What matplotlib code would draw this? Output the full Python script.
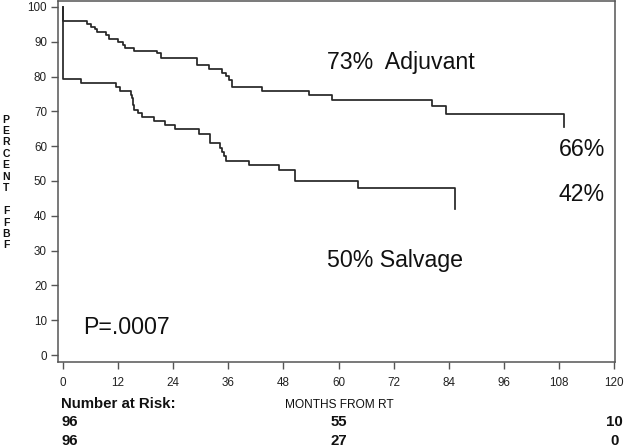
import matplotlib
matplotlib.use("Agg")
import matplotlib.pyplot as plt
import matplotlib.transforms as mtransforms

# ---------------- data ----------------
adj_months = [0, 0, 5.2, 6.1, 7.0, 7.3, 9.3, 9.9, 12.0, 13.1, 13.5, 15.5, 20.4, 21.3,
              29.1, 31.7, 34.6, 35.5, 36.2, 36.7, 36.9, 43.3, 53.5, 58.5, 80.4, 83.3, 109.0]
adj_pct = [100, 96.0, 95.0, 94.3, 93.6, 92.7, 91.8, 90.7, 89.8, 89.1, 88.3, 87.4, 86.7, 85.4,
           83.3, 82.1, 81.1, 80.2, 79.0, 78.1, 77.1, 75.9, 74.8, 73.3, 71.6, 69.3, 65.5]

sal_months = [0, 0, 4.0, 11.5, 12.4, 14.7, 15.1, 15.3, 15.5, 16.3, 17.3, 19.7, 22.2, 24.4,
              29.5, 31.9, 34.2, 34.6, 35.1, 35.4, 40.6, 47.1, 50.5, 64.2, 85.4]
sal_pct = [100, 79.2, 78.1, 76.9, 75.9, 74.7, 73.7, 71.9, 70.4, 69.4, 68.3, 67.2, 66.1, 64.9,
           63.5, 60.8, 59.6, 58.2, 57.2, 55.8, 54.6, 53.2, 50.1, 48.1, 41.9]

x_ticks = [0, 12, 24, 36, 48, 60, 72, 84, 96, 108, 120]
y_ticks = [0, 10, 20, 30, 40, 50, 60, 70, 80, 90, 100]

risk_months = [0, 60, 120]
risk_adjuvant = [96, 55, 10]
risk_salvage = [96, 27, 0]

# ---------------- figure ----------------
W, H = 625, 447
fig = plt.figure(figsize=(W / 100, H / 100), dpi=100)
plt.rcParams['font.family'] = ['Liberation Sans', 'DejaVu Sans']

def fx(px):
    return px / W

def fy(py):
    return 1 - py / H

ax = fig.add_axes([fx(58), fy(362), fx(615) - fx(58), fy(1) - fy(362)])

line_col = '#262626'
ax.plot(adj_months, adj_pct, drawstyle='steps-post', color=line_col, lw=1.25)
ax.plot(sal_months, sal_pct, drawstyle='steps-post', color=line_col, lw=1.25)

ax.set_xlim(-1.1, 120.2)
ax.set_ylim(-2.0, 101.7)
ax.set_xticks(x_ticks)
ax.set_yticks(y_ticks)
ax.tick_params(axis='both', direction='out', length=5, width=1, color='#555555',
               labelcolor='#222222', labelsize=8.4)
ax.tick_params(axis='x', pad=6)
ax.tick_params(axis='y', pad=3)
for s in ax.spines.values():
    s.set_color('#555555')
    s.set_linewidth(1.1)

big = 16.7
ax.text(57.5, 83.9, '73%  Adjuvant', fontsize=big, va='center', ha='left', color='#111111')
ax.text(108.0, 58.9, '66%', fontsize=big, va='center', ha='left', color='#111111')
ax.text(108.0, 46.0, '42%', fontsize=big, va='center', ha='left', color='#111111')
ax.text(57.5, 27.3, '50% Salvage', fontsize=big, va='center', ha='left', color='#111111')
ax.text(4.4, 8.0, 'P=.0007', fontsize=big, va='center', ha='left', color='#111111')

# stacked y label
ylabel = 'PERCENT FFBF'
fig.text(fx(6), fy(182.5), '\n'.join(ylabel), fontsize=7.5, fontweight='bold',
         ha='center', va='center', linespacing=1.18, color='#111111')

# x label
fig.text(fx(339), fy(405.5), 'MONTHS FROM RT', fontsize=8.6, ha='center', va='center',
         color='#111111')

# number at risk
fig.text(fx(61), fy(404), 'Number at Risk:', fontsize=10.8, fontweight='bold',
         ha='left', va='center', color='#111111')
blend = mtransforms.blended_transform_factory(ax.transData, fig.transFigure)
for m, a, s in zip(risk_months, risk_adjuvant, risk_salvage):
    if m == 0:
        tr = blend + mtransforms.ScaledTranslation(-2 / 100, 0, fig.dpi_scale_trans)
        ha = 'left'
    else:
        tr = blend
        ha = 'center'
    fig.text(m, fy(422.5), str(a), transform=tr, fontsize=10.8, fontweight='bold',
             ha=ha, va='center', color='#111111')
    fig.text(m, fy(441), str(s), transform=tr, fontsize=10.8, fontweight='bold',
             ha=ha, va='center', color='#111111')

fig.savefig('out.png', dpi=100)
